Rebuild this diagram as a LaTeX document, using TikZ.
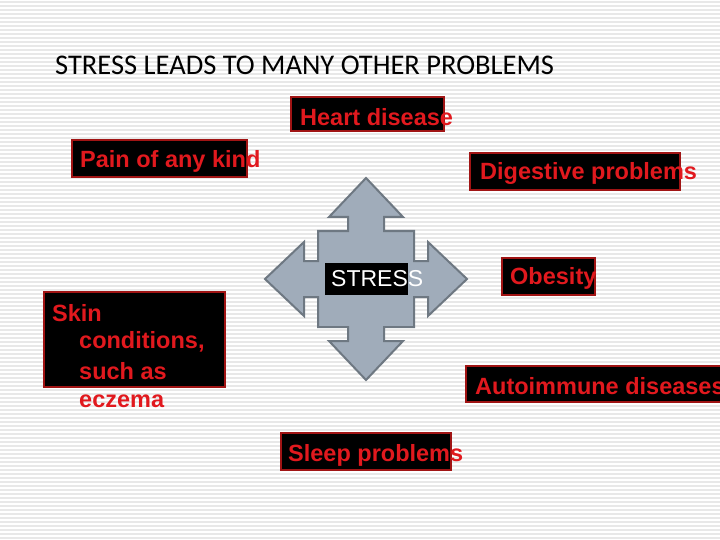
\documentclass[tikz,border=0pt]{standalone}
\usepackage{fontspec}
\setmainfont{Liberation Sans}
\newfontfamily\titlefont{Carlito}
\definecolor{boxred}{RGB}{160,20,20}
\definecolor{txtred}{RGB}{225,25,30}
\definecolor{arrowfill}{RGB}{160,172,186}
\definecolor{arrowline}{RGB}{110,120,130}
\begin{document}
\begin{tikzpicture}[x=1pt,y=-1pt,
  bx/.style={fill=black,draw=boxred,line width=2.5pt},
  rt/.style={anchor=west,inner sep=0pt,text=txtred,font=\bfseries\fontsize{23.5}{28}\selectfont}]
\useasboundingbox (0,0) rectangle (720,540);
\clip (0,0) rectangle (720,540);
\fill[white] (0,0) rectangle (720,540);
\foreach \yy in {2,6,...,540} \draw[black!9,line width=1.2pt] (0,\yy) -- (720,\yy);
\node[anchor=west,inner sep=0pt,font=\titlefont\fontsize{28.5}{32}\selectfont] (title) at (55,65) {STRESS LEADS TO MANY OTHER PROBLEMS};
% quad arrow
\draw[fill=arrowfill,draw=arrowline,line width=2pt,line join=miter]
 (366,178) -- (403,217) -- (384,217) -- (384,231) -- (414,231) -- (414,261) -- (428,261) -- (428,242) -- (467,279)
 -- (428,316) -- (428,297) -- (414,297) -- (414,327) -- (384,327) -- (384,341) -- (403,341) -- (366,380)
 -- (329,341) -- (348,341) -- (348,327) -- (318,327) -- (318,297) -- (304,297) -- (304,316) -- (265,279)
 -- (304,242) -- (304,261) -- (318,261) -- (318,231) -- (348,231) -- (348,217) -- (329,217) -- cycle;
\fill[black] (325,263) rectangle (408,295);
\node[anchor=west,inner sep=0pt,text=white,font=\fontsize{23}{26}\selectfont] (stress) at (331,279) {STRESS};
% boxes
\draw[bx] (291,97) rectangle (444,131);   \node[rt] (heart) at (300,117) {Heart disease};
\draw[bx] (72,140) rectangle (247,177);   \node[rt] (pain) at (80,161) {Pain of any kind};
\draw[bx] (470,153) rectangle (680,190);  \node[rt] (dig) at (480,173) {Digestive problems};
\draw[bx] (502,258) rectangle (595,295);  \node[rt] (ob) at (510,278) {Obesity};
\draw[bx] (44,292) rectangle (225,387);
\node[rt] (skin1) at (52,313) {Skin};
\node[rt] (skin2) at (79,342) {conditions,};
\node[rt] (skin3) at (79,371) {such as};
\node[rt] (skin4) at (79,401) {eczema};
\draw[bx] (466,366) rectangle (730,402); \node[rt] (auto) at (475,386) {Autoimmune diseases};
\draw[bx] (281,433) rectangle (451,470);  \node[rt] (sleep) at (288,455) {Sleep problems};
\end{tikzpicture}
\end{document}
